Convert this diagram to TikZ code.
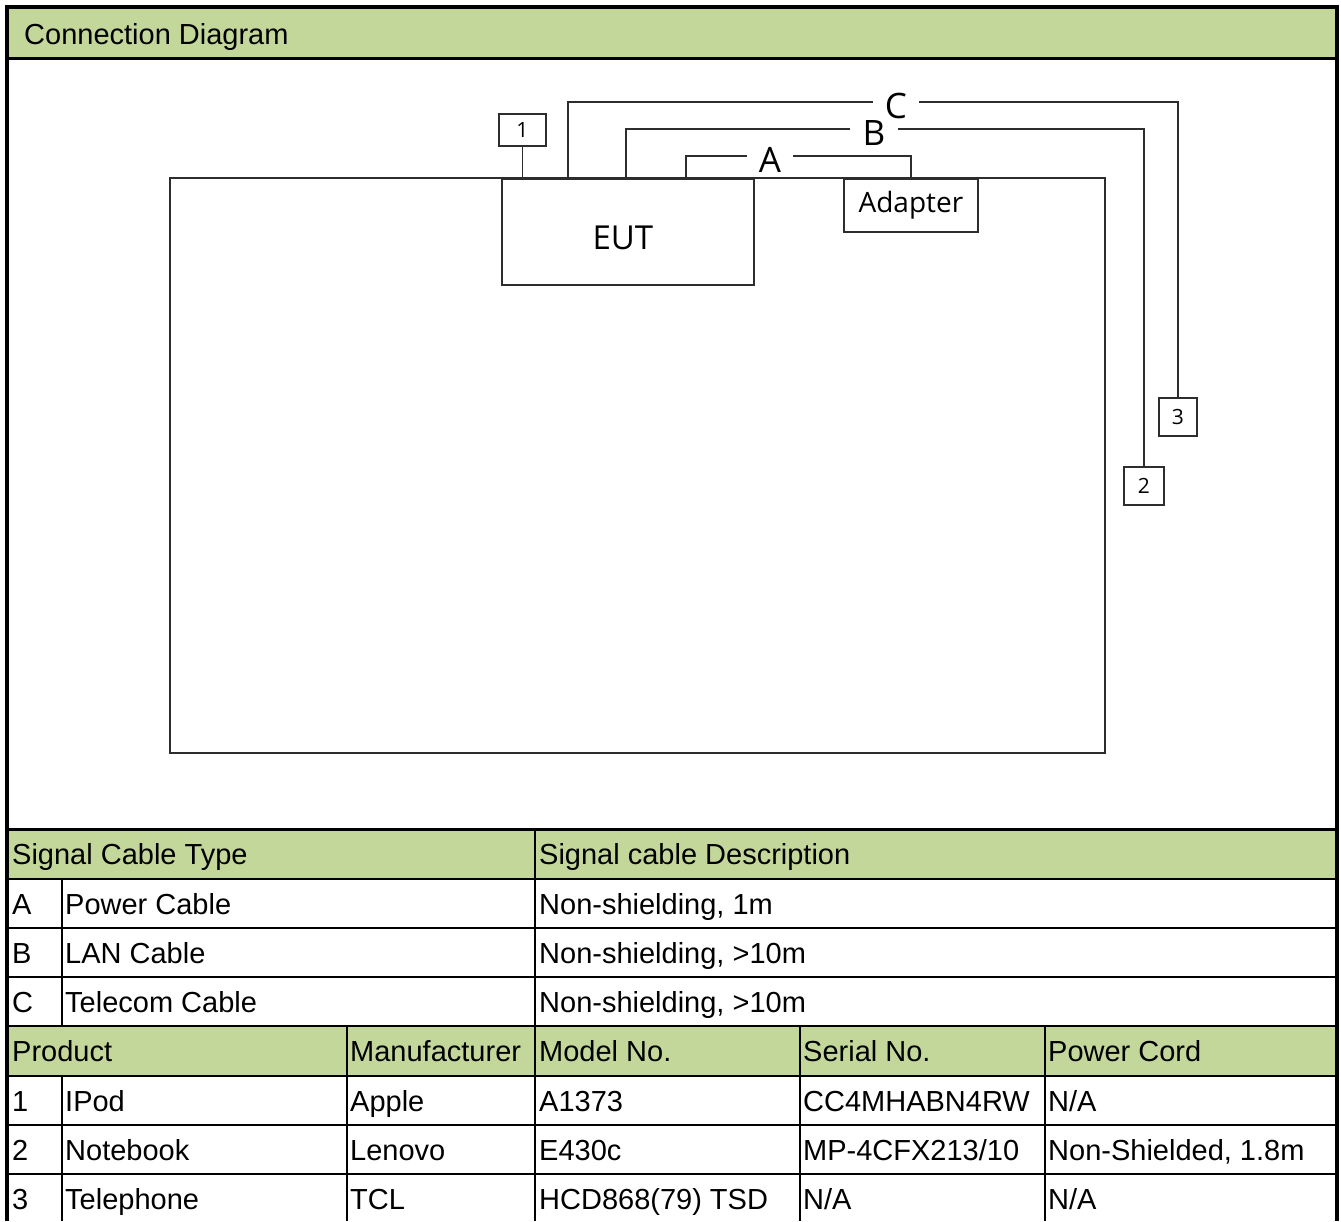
\documentclass[tikz,border=0pt]{standalone}
\usepackage{fontspec}
\setmainfont{Liberation Sans}
\newfontfamily\diagfont{Open Sans}
\definecolor{HeadGreen}{RGB}{196,215,155}
\definecolor{WireGray}{RGB}{45,45,45}

\tikzset{
  unitbox/.style={draw=WireGray, line width=1.8pt, inner sep=0pt, font=\diagfont\fontsize{33}{36}\selectfont},
  devbox/.style={draw=WireGray, line width=1.8pt, inner sep=0pt, font=\diagfont\fontsize{21}{23}\selectfont},
  cablelbl/.style={inner xsep=12pt, inner ysep=0pt, text height=33pt, text depth=0pt, font=\diagfont\fontsize{35}{38}\selectfont},
  cable/.style={draw=WireGray, line width=1.8pt},
  cell/.style={anchor=base west, inner sep=0pt, font=\fontsize{29}{33}\selectfont},
  gridline/.style={line width=2pt},
}

\begin{document}
\begin{tikzpicture}[x=1pt, y=-1pt]
    \useasboundingbox (0,0) rectangle (1341,1221);

    % Header bands
    \fill[HeadGreen] (9,9) rectangle (1335,58);
    \fill[HeadGreen] (9,829) rectangle (1335,879);
    \fill[HeadGreen] (9,1026) rectangle (1335,1076);
    \node[cell] (title) at (24,44) {Connection Diagram};

    % Test table with EUT and adapter
    \draw[cable] (170,178) rectangle (1105,753);
    \node[unitbox, minimum width=252, minimum height=106, anchor=north west, text height=36pt, text depth=0pt] (eut) at (501,178) {EUT\hspace*{10pt}};
    \node[unitbox, font=\diagfont\fontsize{28}{30}\selectfont, minimum width=134, minimum height=53, anchor=north west] (adapter) at (843,178) {Adapter};

    % Support units
    \node[devbox, minimum width=47, minimum height=32, anchor=north west] (dev1) at (498,113) {1};
    \node[devbox, minimum width=40, minimum height=38, anchor=north west] (dev2) at (1123,466) {2};
    \node[devbox, minimum width=38, minimum height=38, anchor=north west] (dev3) at (1158,397) {3};

    % Cables
    \coordinate (portC) at (568,178);
    \coordinate (portB) at (626,178);
    \coordinate (portA) at (686,178);
    \node[cablelbl] (lblA) at (770,156) {A};
    \node[cablelbl] (lblB) at (874,129) {B};
    \node[cablelbl] (lblC) at (896,102) {C};
    \draw[cable] (dev1.south) -- (dev1.south |- eut.north);
    \draw[cable] (portA) |- (lblA.west);
    \draw[cable] (lblA.east) -| (adapter.north);
    \draw[cable] (portB) |- (lblB.west);
    \draw[cable] (lblB.east) -| (dev2.north);
    \draw[cable] (portC) |- (lblC.west);
    \draw[cable] (lblC.east) -| (dev3.north);

    % Table grid
    \draw[line width=2.5pt] (9,58.5) -- (1335,58.5);
    \draw[line width=3pt] (9,829) -- (1335,829);
    \foreach \y in {879,928,977,1026,1076,1125,1174}
        \draw[gridline] (9,\y) -- (1335,\y);
    \draw[gridline] (62,879) -- (62,1026);
    \draw[gridline] (62,1076) -- (62,1221);
    \draw[gridline] (535,829) -- (535,1221);
    \foreach \x in {347,800,1045}
        \draw[gridline] (\x,1026) -- (\x,1221);
    \draw[line width=4pt] (7,1221) -- (7,7) -- (1337,7) -- (1337,1221);

    % Cable table
    \node[cell] (hcable) at (12,864.5) {Signal Cable Type};
    \node[cell] (hdesc) at (539,864.5) {Signal cable Description};
    \foreach \ltr/\kind/\desc [count=\i] in {A/Power Cable/{Non-shielding, 1m},
                                             B/LAN Cable/{Non-shielding, >10m},
                                             C/Telecom Cable/{Non-shielding, >10m}} {
        \node[cell] (cid\i) at (12,{879+49*(\i-1)+35}) {\ltr};
        \node[cell] (ckind\i) at (65,{879+49*(\i-1)+35}) {\kind};
        \node[cell] (cdesc\i) at (539,{879+49*(\i-1)+35}) {\desc};
    }

    % Product table
    \node[cell] (hprod) at (12,1061.5) {Product};
    \node[cell] (hmanu) at (350,1061.5) {Manufacturer};
    \node[cell] (hmodel) at (539,1061.5) {Model No.};
    \node[cell] (hserial) at (803,1061.5) {Serial No.};
    \node[cell] (hcord) at (1048,1061.5) {Power Cord};

    \node[cell] (pid1) at (12,1111) {1};
    \node[cell] (pname1) at (65,1111) {IPod};
    \node[cell] (pmanu1) at (350,1111) {Apple};
    \node[cell] (pmodel1) at (539,1111) {A1373};
    \node[cell] (pserial1) at (803,1111) {CC4MHABN4RW};
    \node[cell] (pcord1) at (1048,1111) {N/A};

    \node[cell] (pid2) at (12,1160) {2};
    \node[cell] (pname2) at (65,1160) {Notebook};
    \node[cell] (pmanu2) at (350,1160) {Lenovo};
    \node[cell] (pmodel2) at (539,1160) {E430c};
    \node[cell] (pserial2) at (803,1160) {MP-4CFX213/10};
    \node[cell] (pcord2) at (1048,1160) {Non-Shielded, 1.8m};

    \node[cell] (pid3) at (12,1209) {3};
    \node[cell] (pname3) at (65,1209) {Telephone};
    \node[cell] (pmanu3) at (350,1209) {TCL};
    \node[cell] (pmodel3) at (539,1209) {HCD868(79) TSD};
    \node[cell] (pserial3) at (803,1209) {N/A};
    \node[cell] (pcord3) at (1048,1209) {N/A};
\end{tikzpicture}
\end{document}
